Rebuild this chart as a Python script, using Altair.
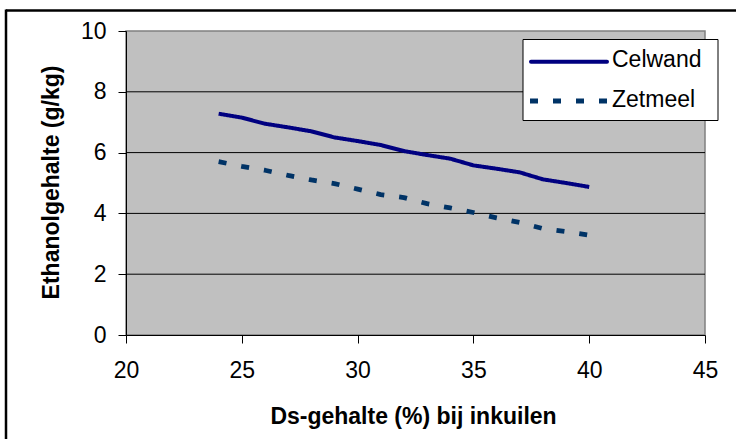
import altair as alt
import pandas as pd

# ---- data ----
ds_gehalte = [24, 25, 26, 27, 28, 29, 30, 31, 32, 33, 34, 35, 36, 37, 38, 39, 40]
celwand = [7.28, 7.15, 6.95, 6.83, 6.70, 6.50, 6.38, 6.25, 6.05, 5.92, 5.80, 5.58, 5.47, 5.35, 5.12, 5.00, 4.87]
zetmeel = [5.70, 5.55, 5.42, 5.25, 5.10, 4.98, 4.80, 4.62, 4.52, 4.32, 4.18, 4.03, 3.85, 3.70, 3.50, 3.40, 3.28]
series_names = ["Celwand", "Zetmeel"]
series_colors = ["#000080", "#003366"]
x_ticks = [20, 25, 30, 35, 40, 45]
y_ticks = [0, 2, 4, 6, 8, 10]
grid_values = [2, 4, 6, 8]
x_title = "Ds-gehalte (%) bij inkuilen"
y_title = "Ethanolgehalte (g/kg)"

FONT = "Liberation Sans, Arial, sans-serif"
W, H = 579, 304

rows = []
for name, vals in zip(series_names, [celwand, zetmeel]):
    for x, v in zip(ds_gehalte, vals):
        rows.append({"ds": x, "ethanol": v, "serie": name})
df = pd.DataFrame(rows)

xscale = alt.Scale(domain=[20, 45], nice=False, zero=False)
yscale = alt.Scale(domain=[0, 10], nice=False)

lines = alt.Chart(df).mark_line(strokeCap="butt", strokeJoin="round").encode(
    x=alt.X("ds:Q", scale=xscale,
            axis=alt.Axis(values=x_ticks, title=x_title, grid=False, format="d",
                          titleX=287, titleY=88, titleBaseline="alphabetic",
                          labelPadding=16, labelFlush=False, labelOverlap=False)),
    y=alt.Y("ethanol:Q", scale=yscale,
            axis=alt.Axis(values=y_ticks, title=y_title, grid=False, format="d",
                          titleX=-75, titleY=151, titleBaseline="middle",
                          labelPadding=12, labelFlush=False, labelOverlap=False)),
    color=alt.Color("serie:N", scale=alt.Scale(domain=series_names, range=series_colors), legend=None),
    strokeDash=alt.StrokeDash("serie:N", scale=alt.Scale(domain=series_names, range=[[1, 0], [8, 15]]), legend=None),
    strokeWidth=alt.StrokeWidth("serie:N", scale=alt.Scale(domain=series_names, range=[4, 4.8]), legend=None),
)

grid = alt.Chart(pd.DataFrame({"g": grid_values})).mark_rule(color="black", strokeWidth=1).encode(
    y=alt.Y("g:Q", scale=yscale)
)

# ---- legend box (decoration) ----
leg_box = alt.Chart(pd.DataFrame({"a": [0]})).mark_rect(
    fill="white", stroke="black", strokeWidth=1
).encode(x=alt.value(397), x2=alt.value(592), y=alt.value(8.5), y2=alt.value(89.5))

leg_line1 = alt.Chart(pd.DataFrame({"a": [0]})).mark_rule(
    color=series_colors[0], strokeWidth=4, strokeCap="round"
).encode(x=alt.value(405), x2=alt.value(481), y=alt.value(30.7))

leg_line2 = alt.Chart(pd.DataFrame({"a": [0]})).mark_rule(
    color=series_colors[1], strokeWidth=4.8, strokeDash=[8, 15], strokeCap="butt"
).encode(x=alt.value(404), x2=alt.value(484), y=alt.value(70))

leg_text1 = alt.Chart(pd.DataFrame({"t": [series_names[0]]})).mark_text(
    align="left", baseline="alphabetic", fontSize=23, font=FONT, color="black"
).encode(x=alt.value(486), y=alt.value(36.3), text="t:N")

leg_text2 = alt.Chart(pd.DataFrame({"t": [series_names[1]]})).mark_text(
    align="left", baseline="alphabetic", fontSize=23, font=FONT, color="black"
).encode(x=alt.value(486), y=alt.value(76.3), text="t:N")

# ---- outer frame (decoration) ----
frame_top = alt.Chart(pd.DataFrame({"a": [0]})).mark_rule(color="black", strokeWidth=2.5).encode(
    x=alt.value(-120), x2=alt.value(620), y=alt.value(-20.5))
frame_left = alt.Chart(pd.DataFrame({"a": [0]})).mark_rule(color="black", strokeWidth=2.5).encode(
    x=alt.value(-120), y=alt.value(-21.5), y2=alt.value(420))

chart = alt.layer(
    grid, lines, leg_box, leg_line1, leg_line2, leg_text1, leg_text2, frame_top, frame_left
).properties(
    width=W, height=H,
    autosize=alt.AutoSizeParams(type="none"),
    padding={"left": 126, "top": 31, "right": 31, "bottom": 104},
    background="white",
).configure_view(
    fill="#C0C0C0", stroke="#808080", strokeWidth=1.5
).configure_axis(
    domainColor="black", domainWidth=1, tickColor="black", tickSize=8, tickWidth=1,
    labelFont=FONT, labelFontSize=23, labelColor="black",
    titleFont=FONT, titleFontSize=23, titleFontWeight="bold", titleColor="black",
)

chart.save("out.html", embed_options={"renderer": "svg", "actions": False})
